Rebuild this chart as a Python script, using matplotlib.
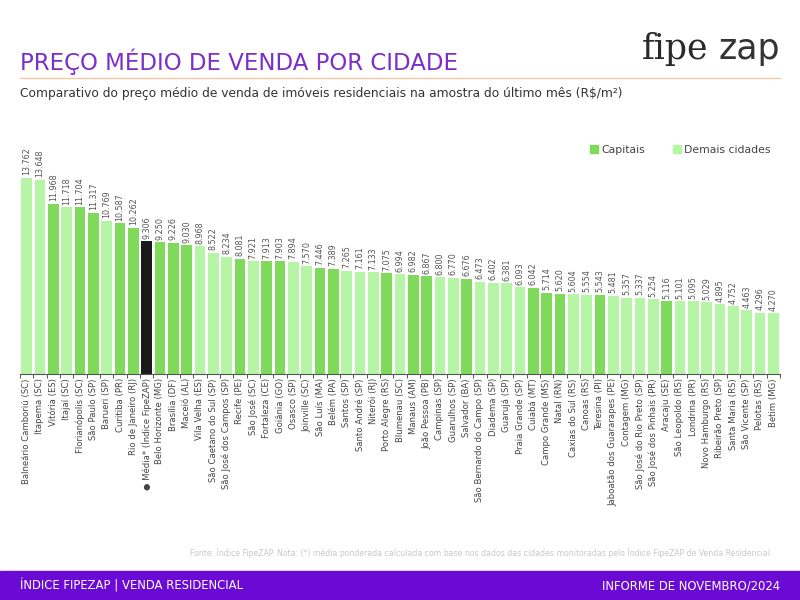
import matplotlib.pyplot as plt
from matplotlib.patches import Rectangle, Patch

# Data
cities = [
    "Balneário Camboriú (SC)", "Itapema (SC)", "Vitória (ES)", "Itajaí (SC)",
    "Florianópolis (SC)", "São Paulo (SP)", "Barueri (SP)", "Curitiba (PR)",
    "Rio de Janeiro (RJ)", "● Média* (Índice FipeZAP)", "Belo Horizonte (MG)",
    "Brasília (DF)", "Maceió (AL)", "Vila Velha (ES)", "São Caetano do Sul (SP)",
    "São José dos Campos (SP)", "Recife (PE)", "São José (SC)", "Fortaleza (CE)",
    "Goiânia (GO)", "Osasco (SP)", "Joinville (SC)", "São Luís (MA)", "Belém (PA)",
    "Santos (SP)", "Santo André (SP)", "Niterói (RJ)", "Porto Alegre (RS)",
    "Blumenau (SC)", "Manaus (AM)", "João Pessoa (PB)", "Campinas (SP)",
    "Guarulhos (SP)", "Salvador (BA)", "São Bernardo do Campo (SP)", "Diadema (SP)",
    "Guarujá (SP)", "Praia Grande (SP)", "Cuiabá (MT)", "Campo Grande (MS)",
    "Natal (RN)", "Caxias do Sul (RS)", "Canoas (RS)", "Teresina (PI)",
    "Jaboatão dos Guararapes (PE)", "Contagem (MG)", "São José do Rio Preto (SP)",
    "São José dos Pinhais (PR)", "Aracaju (SE)", "São Leopoldo (RS)", "Londrina (PR)",
    "Novo Hamburgo (RS)", "Ribeirão Preto (SP)", "Santa Maria (RS)",
    "São Vicente (SP)", "Pelotas (RS)", "Betim (MG)",
]
prices = [
    13762, 13648, 11968, 11718, 11704, 11317, 10769, 10587, 10262, 9306,
    9250, 9226, 9030, 8968, 8522, 8234, 8081, 7921, 7913, 7903,
    7894, 7570, 7446, 7389, 7265, 7161, 7133, 7075, 6994, 6982,
    6867, 6800, 6770, 6676, 6473, 6402, 6381, 6093, 6042, 5714,
    5620, 5604, 5554, 5543, 5481, 5357, 5337, 5254, 5116, 5101,
    5095, 5029, 4895, 4752, 4463, 4296, 4270,
]
# C = capital, D = demais cidades, M = media
groups = list("DDCDCCDCCMCCCDDDCDCCDDCCDDDCDCCDDCDDDDCCCDDCDDDDCDDDDDDDD")

colors = {"C": "#7FD95A", "D": "#B6F5A6", "M": "#1A1A1A"}
purple = "#7B2FC9"
band = "#6A0AD4"

fig = plt.figure(figsize=(8, 6), dpi=100)
plt.rcParams['font.family'] = ['DejaVu Sans']

ax = fig.add_axes([0.025, 0.3767, 0.95, 0.39])
x = list(range(len(prices)))
ax.bar(x, prices, width=0.78, color=[colors[g] for g in groups])
for i, v in enumerate(prices):
    ax.text(i, v + 180, f"{v:,}".replace(",", "."), rotation=90, ha="center",
            va="bottom", fontsize=5.8, color="#555555")
ax.set_xlim(-0.5, len(prices) - 0.5)
ax.set_ylim(0, 16430)
ax.set_yticks([])
for s in ["top", "right", "left"]:
    ax.spines[s].set_visible(False)
ax.spines["bottom"].set_color("#555555")
ax.spines["bottom"].set_linewidth(0.8)
ax.set_xticks(x)
ax.set_xticklabels(cities, rotation=90, fontsize=6.1, color="#444444")
ax.tick_params(axis="x", which="major", length=0, pad=3)
ax.set_xticks([i - 0.5 for i in range(len(prices) + 1)], minor=True)
ax.tick_params(axis="x", which="minor", length=3, color="#555555", width=0.7)

ax.legend(handles=[Patch(color=colors["C"], label="Capitais"),
                   Patch(color=colors["D"], label="Demais cidades")],
          loc="upper right", bbox_to_anchor=(1.0, 1.02), ncol=2, frameon=False,
          fontsize=7.8, handlelength=0.7, handleheight=0.7, handletextpad=0.3,
          columnspacing=2.6, labelcolor="#444444")

# header
fig.text(0.025, 0.897, "PREÇO MÉDIO DE VENDA POR CIDADE", fontsize=16.5,
         color=purple, va="center", ha="left")
fig.add_artist(plt.Line2D([0.025, 0.975], [0.87, 0.87], color="#F2C9A6", lw=1))
fig.text(0.025, 0.845,
         "Comparativo do preço médio de venda de imóveis residenciais na amostra do último mês (R$/m²)",
         fontsize=8.8, color="#333333", va="center", ha="left")
fig.text(0.802, 0.918, "fipe", fontsize=25, family="DejaVu Serif", color="#2A2A2A",
         va="center", ha="left")
fig.text(0.975, 0.918, "zap", fontsize=25, color="#333333", va="center", ha="right")

# footnote
fig.text(0.966, 0.078,
         "Fonte: Índice FipeZAP. Nota: (*) média ponderada calculada com base nos dados das cidades monitoradas pelo Índice FipeZAP de Venda Residencial.",
         fontsize=5.6, color="#C8C8C8", ha="right", va="center")

# footer band
fig.add_artist(Rectangle((0, 0), 1, 0.0483, transform=fig.transFigure,
                         color=band, zorder=0))
fig.text(0.025, 0.024, "ÍNDICE FIPEZAP | VENDA RESIDENCIAL", fontsize=8.4,
         color="white", va="center", ha="left")
fig.text(0.975, 0.024, "INFORME DE NOVEMBRO/2024", fontsize=8.4,
         color="white", va="center", ha="right")

fig.savefig("out.png", dpi=100)
